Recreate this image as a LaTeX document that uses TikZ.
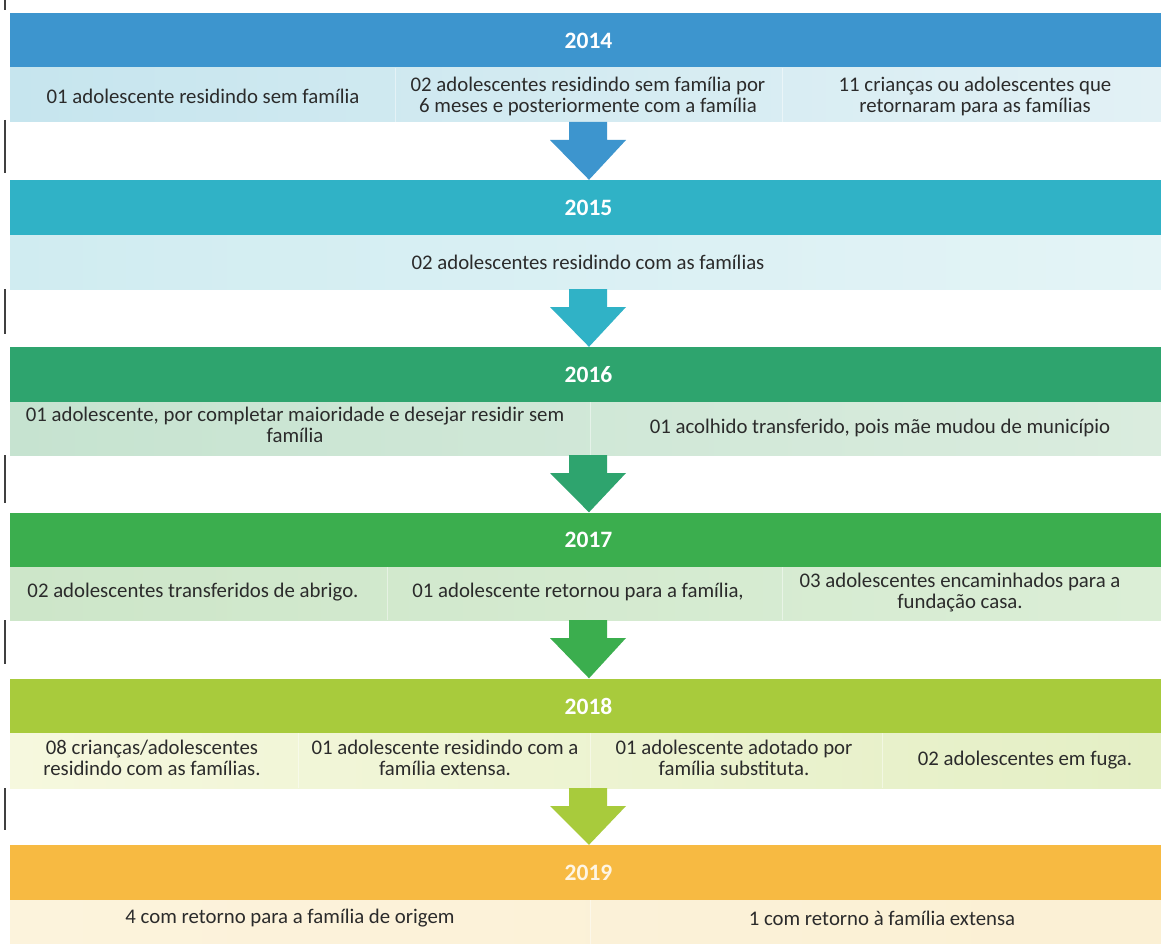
\documentclass[tikz,border=0pt]{standalone}
\usepackage{fontspec}
\setmainfont{Carlito}
\definecolor{h14}{HTML}{3D95CE}
\definecolor{h15}{HTML}{30B2C6}
\definecolor{h16}{HTML}{2EA46E}
\definecolor{h17}{HTML}{3BAE4E}
\definecolor{h18}{HTML}{A8CB3C}
\definecolor{h19}{HTML}{F7BA42}
\definecolor{c14l}{HTML}{C6E5EE}
\definecolor{c14r}{HTML}{E2F1F5}
\definecolor{c15l}{HTML}{D0ECF1}
\definecolor{c15r}{HTML}{E4F4F6}
\definecolor{c16l}{HTML}{C6E3D0}
\definecolor{c16r}{HTML}{DAECDE}
\definecolor{c17l}{HTML}{CDE6C9}
\definecolor{c17r}{HTML}{DBEED6}
\definecolor{c18l}{HTML}{F6F8DE}
\definecolor{c18r}{HTML}{E4EFC5}
\definecolor{c19l}{HTML}{FCF3DC}
\definecolor{c19r}{HTML}{FBF0D4}
\definecolor{txt}{HTML}{2B2B2B}
\begin{document}
\begin{tikzpicture}[x=1pt,y=-1pt,
  hdr/.style={draw=none,minimum width=1151pt,minimum height=55pt,inner sep=0pt,
    text=white,font=\fontsize{23.5}{24}\selectfont\bfseries},
  cell/.style={draw=none,inner sep=0pt,text=txt,align=center,
    font=\fontsize{20.8}{21}\selectfont},
  sep/.style={white,line width=1pt,opacity=0.45},
  scan/.style={black!75,line width=1.6pt}]
\useasboundingbox (0,0) rectangle (1161,944);
\fill[white] (0,0) rectangle (1161,944);
% scan marks at the left edge
\draw[scan] (5,0) -- (5,10);
\draw[scan] (5,120) -- (5,173);
\draw[scan] (5,289) -- (5,334);
\draw[scan] (5,455) -- (5,503);
\draw[scan] (5,620) -- (5,664);
\draw[scan] (5,788) -- (5,830);
% ---------- 2014
\node[hdr,fill=h14] (y14) at (585.5,40.5) {\hspace*{6pt}2014};
\shade[left color=c14l,right color=c14r] (10,68) rectangle (1161,122);
\coordinate (b14) at (588,122);
\draw[sep] (395,68) -- (395,122) (782,68) -- (782,122);
\node[cell] (t14a) at (203,96) {01 adolescente residindo sem família};
\node[cell] (t14b) at (588,96) {02 adolescentes residindo sem família por\\6 meses e posteriormente com a família};
\node[cell] (t14c) at (975,96) {11 crianças ou adolescentes que\\retornaram para as famílias};
% ---------- 2015
\node[hdr,fill=h15] (y15) at (585.5,207.5) {\hspace*{6pt}2015};
\shade[left color=c15l,right color=c15r] (10,235) rectangle (1161,289);
\coordinate (b15) at (588,289);
\node[cell] (t15a) at (588,262) {02 adolescentes residindo com as famílias};
% ---------- 2016
\node[hdr,fill=h16] (y16) at (585.5,374.5) {\hspace*{6pt}2016};
\shade[left color=c16l,right color=c16r] (10,402) rectangle (1161,455);
\coordinate (b16) at (588,455);
\draw[sep] (590,402) -- (590,455);
\node[cell] (t16a) at (295,425) {01 adolescente, por completar maioridade e desejar residir sem\\família};
\node[cell] (t16b) at (880,428) {01 acolhido transferido, pois mãe mudou de município};
% ---------- 2017
\node[hdr,fill=h17] (y17) at (585.5,540) {\hspace*{6pt}2017};
\shade[left color=c17l,right color=c17r] (10,567) rectangle (1161,620);
\coordinate (b17) at (588,620);
\draw[sep] (387,567) -- (387,620) (782,567) -- (782,620);
\node[cell] (t17a) at (193,592) {02 adolescentes transferidos de abrigo.};
\node[cell] (t17b) at (578,592) {01 adolescente retornou para a família,};
\node[cell] (t17c) at (960,593) {03 adolescentes encaminhados para a\\fundação casa.};
% ---------- 2018
\node[hdr,fill=h18] (y18) at (585.5,706) {\hspace*{6pt}2018};
\shade[left color=c18l,right color=c18r] (10,733) rectangle (1161,788);
\coordinate (b18) at (588,788);
\draw[sep] (298,733) -- (298,788) (590,733) -- (590,788) (882,733) -- (882,788);
\node[cell] (t18a) at (152,758) {08 crianças/adolescentes\\residindo com as famílias.};
\node[cell] (t18b) at (445,758) {01 adolescente residindo com a\\família extensa.};
\node[cell] (t18c) at (734,758) {01 adolescente adotado por\\família substituta.};
\node[cell] (t18d) at (1025,760) {02 adolescentes em fuga.};
% ---------- 2019
\node[hdr,fill=h19,text=white!85!h19] (y19) at (585.5,872.5) {\hspace*{6pt}2019};
\shade[left color=c19l,right color=c19r] (10,900) rectangle (1161,944);
\draw[sep] (590,900) -- (590,944);
\node[cell] (t19a) at (290,918) {4 com retorno para a família de origem};
\node[cell] (t19b) at (882,918) {1 com retorno à família extensa};
% ---------- block arrows between the years
\foreach \b/\n/\c in {b14/y15/h14,b15/y16/h15,b16/y17/h16,b17/y18/h17,b18/y19/h18}{
  \fill[\c] ([xshift=-19pt]\b) -- ([xshift=19pt]\b)
     -- ([xshift=19pt,yshift=-18pt]\b) -- ([xshift=38pt,yshift=-18pt]\b)
     -- ([xshift=1pt]\n.north -| \b) -- ([xshift=-38pt,yshift=-18pt]\b)
     -- ([xshift=-19pt,yshift=-18pt]\b) -- cycle;
}
\end{tikzpicture}
\end{document}
